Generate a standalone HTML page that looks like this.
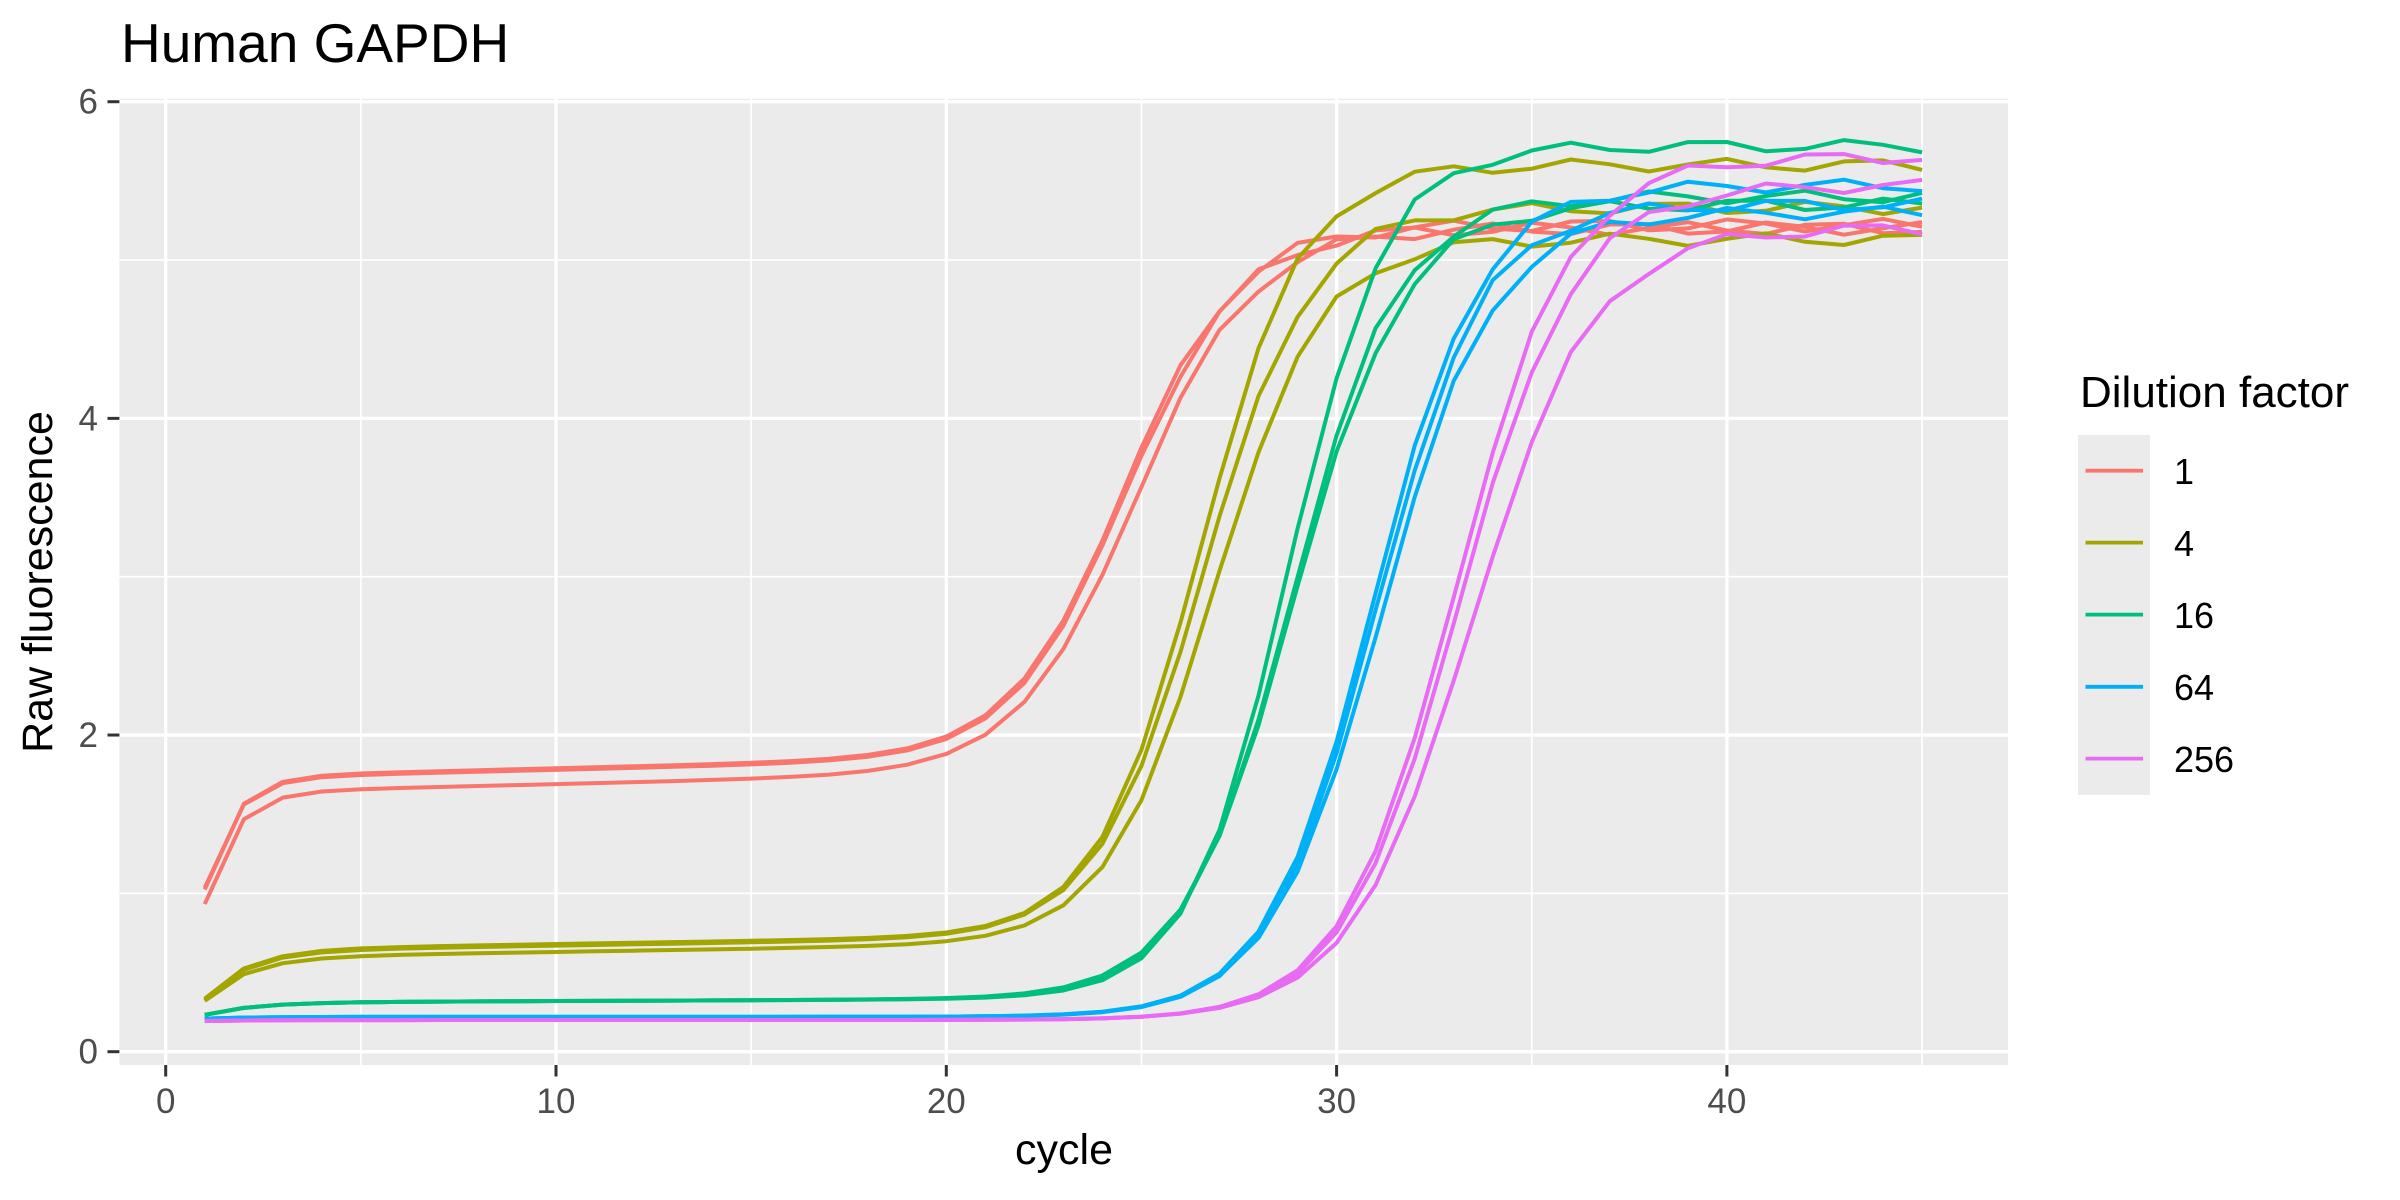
<!DOCTYPE html>
<html><head><meta charset="utf-8"><style>
html,body{margin:0;padding:0;background:#fff;}
svg{display:block;font-family:"Liberation Sans",Arial,sans-serif;}
</style></head><body>
<svg id="s" width="2400" height="1200" viewBox="0 0 2400 1200" xmlns="http://www.w3.org/2000/svg">
<rect x="0" y="0" width="2400" height="1200" fill="#fff"/>
<rect x="119.4" y="98.7" width="1888.6" height="966.3" fill="#EBEBEB"/>
<g id="grid"></g>
<g id="lines" fill="none" stroke-width="4" stroke-linejoin="round"></g>
<g id="axes"></g>
<text x="121" y="62" font-size="55" fill="#000">Human GAPDH</text>
<text x="1064" y="1164" font-size="43" text-anchor="middle" fill="#000">cycle</text>
<text transform="translate(52,582) rotate(-90)" font-size="43" text-anchor="middle" fill="#000">Raw fluorescence</text>
<text x="2080" y="407" font-size="44" fill="#000">Dilution factor</text>
<rect x="2078" y="435" width="72" height="360" fill="#EBEBEB"/>
<g stroke-width="3.8">
<line x1="2085.5" x2="2143" y1="470.7" y2="470.7" stroke="#F8766D"/>
<line x1="2085.5" x2="2143" y1="542.6" y2="542.6" stroke="#A3A500"/>
<line x1="2085.5" x2="2143" y1="614.6" y2="614.6" stroke="#00BF7D"/>
<line x1="2085.5" x2="2143" y1="686.8" y2="686.8" stroke="#00B0F6"/>
<line x1="2085.5" x2="2143" y1="758.6" y2="758.6" stroke="#E76BF3"/>
</g>
<g font-size="36" fill="#000">
<text x="2174" y="484">1</text>
<text x="2174" y="556">4</text>
<text x="2174" y="628">16</text>
<text x="2174" y="700">64</text>
<text x="2174" y="772">256</text>
</g>
</svg>
<script>
var NS="http://www.w3.org/2000/svg";
function X(c){return 165.7+c*39.03;}
function Y(v){return 1051.7-v*158.33;}
function el(p,t,a,txt){var e=document.createElementNS(NS,t);for(var k in a)e.setAttribute(k,a[k]);if(txt!==undefined)e.textContent=txt;document.getElementById(p).appendChild(e);return e;}
var L=119.4,R=2008,T=98.7,B=1065;
[1,3,5].forEach(function(v){el("grid","line",{x1:L,x2:R,y1:Y(v),y2:Y(v),stroke:"#fff","stroke-width":1.7});});
[5,15,25,35,45].forEach(function(v){el("grid","line",{x1:X(v),x2:X(v),y1:T,y2:B,stroke:"#fff","stroke-width":1.7});});
[0,2,4,6].forEach(function(v){el("grid","line",{x1:L,x2:R,y1:Y(v),y2:Y(v),stroke:"#fff","stroke-width":3.3});
 el("axes","line",{x1:107.5,x2:L,y1:Y(v),y2:Y(v),stroke:"#333","stroke-width":3});
 el("axes","text",{x:98,y:Y(v)+12,"font-size":35,"text-anchor":"end",fill:"#4D4D4D"},String(v));});
[0,10,20,30,40].forEach(function(v){el("grid","line",{x1:X(v),x2:X(v),y1:T,y2:B,stroke:"#fff","stroke-width":3.3});
 el("axes","line",{x1:X(v),x2:X(v),y1:B,y2:1076.5,stroke:"#333","stroke-width":3});
 el("axes","text",{x:X(v),y:1113,"font-size":35,"text-anchor":"middle",fill:"#4D4D4D"},String(v));});
var C=[
["#F8766D",1.73,0.006,0.41,1.4,5.22,24.55,1.45,1],
["#F8766D",1.72,0.006,0.40,1.4,5.20,24.6,1.45,2],
["#F8766D",1.63,0.006,0.43,1.4,5.20,24.85,1.5,3],
["#A3A500",0.64,0.004,0.48,0.93,5.60,26.5,1.3,4],
["#A3A500",0.63,0.004,0.48,0.93,5.33,26.6,1.35,5],
["#A3A500",0.59,0.004,0.46,0.93,5.13,26.85,1.35,6],
["#00BF7D",0.31,0.001,0.25,0.8,5.72,28.75,1.25,7],
["#00BF7D",0.31,0.001,0.25,0.8,5.40,28.85,1.35,8],
["#00BF7D",0.31,0.001,0.25,0.8,5.35,28.9,1.4,9],
["#00B0F6",0.22,0.0,0.05,0.8,5.47,30.95,1.36,10],
["#00B0F6",0.22,0.0,0.05,0.8,5.35,31.0,1.36,11],
["#00B0F6",0.22,0.0,0.05,0.8,5.30,31.15,1.42,12],
["#E76BF3",0.20,0.0,0.03,0.8,5.65,33.05,1.45,13],
["#E76BF3",0.20,0.0,0.03,0.8,5.47,33.15,1.47,14],
["#E76BF3",0.20,0.0,0.03,0.8,5.20,33.45,1.55,15]];
C.forEach(function(p){
 var d="";
 for(var c=1;c<=45;c++){
  var b=p[1]+p[2]*c;
  var s=1/(1+Math.exp(-(c-p[6])/p[7]));
  var v=b*(1-p[3]*Math.exp(-(c-1)*p[4]))+(p[5]-b)*s;
  v+=s*s*0.04*Math.sin(c*1.7+p[8]*2.3);
  d+=(c==1?"M":"L")+X(c).toFixed(1)+","+Y(v).toFixed(1);
 }
 el("lines","path",{d:d,stroke:p[0]});
});
</script>
</body></html>
